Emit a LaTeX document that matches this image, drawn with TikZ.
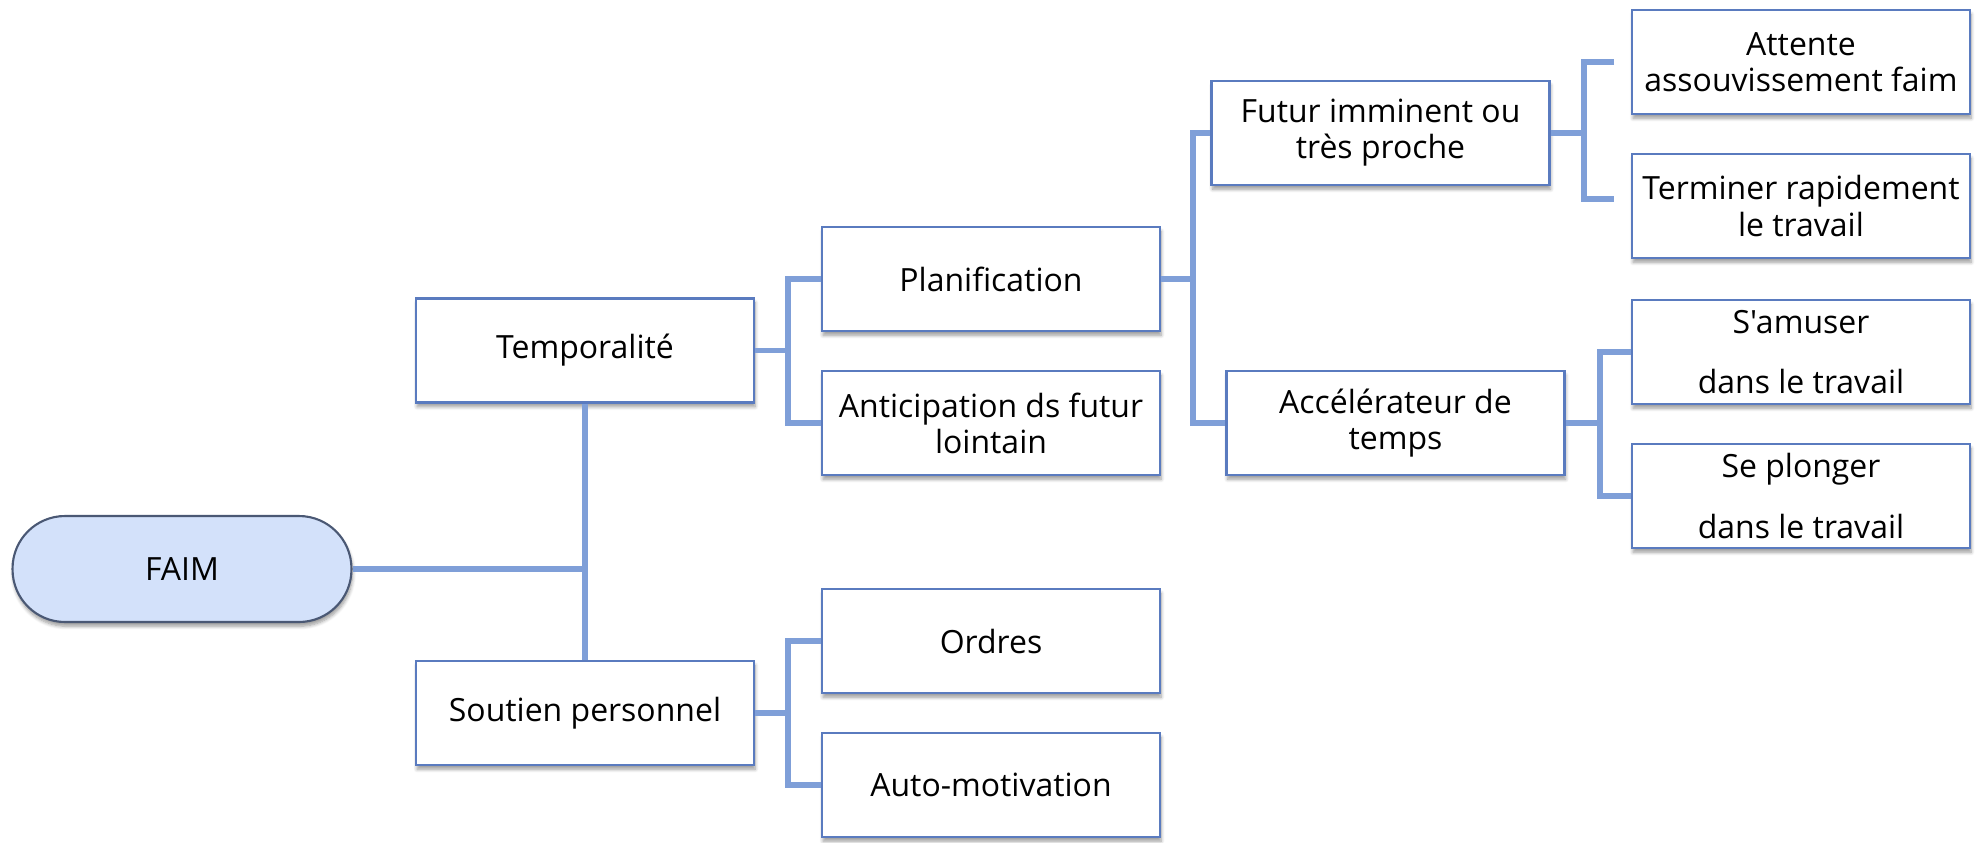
\documentclass[tikz,border=0pt]{standalone}
\usepackage{fontspec}
\setmainfont{Open Sans}[Ligatures=TeXOff]
\usetikzlibrary{shadows.blur}

\definecolor{linkblue}{HTML}{7F9FD8}
\definecolor{boxedge}{HTML}{5A7BBF}
\definecolor{rootfill}{HTML}{D3E1FA}
\definecolor{rootedge}{HTML}{4A5874}

\tikzset{
  every node/.style={font=\fontsize{18.2}{20.5}\selectfont, text=black},
  topic/.style={draw=boxedge, line width=1.2pt, fill=white, rectangle,
    minimum width=6.76cm, minimum height=2.08cm, align=center, inner sep=2pt,
    blur shadow={shadow xshift=0.6pt, shadow yshift=-2.4pt, shadow opacity=40,
      shadow blur radius=2pt, shadow blur steps=6}},
  root/.style={draw=rootedge, line width=1.2pt, fill=rootfill,
    minimum width=6.78cm, minimum height=2.12cm, rounded corners=1.05cm,
    blur shadow={shadow xshift=0.6pt, shadow yshift=-2.4pt, shadow opacity=40,
      shadow blur radius=2pt, shadow blur steps=6}},
  link/.style={draw=linkblue, line width=3.2pt, line join=miter}
}

\begin{document}
\begin{tikzpicture}[x=0.02cm, y=-0.02cm]
\useasboundingbox (0,0) rectangle (1984,842);

% bus positions of the tree branches
\coordinate (busA) at (584.6,0);
\coordinate (busB) at (788,0);
\coordinate (busC) at (1193,0);
\coordinate (busD) at (1584,0);
\coordinate (busE) at (1600,0);
\coordinate (stubD) at (1614,0);

% nodes
\node[root]  (faim) at (182,569)    {FAIM};
\node[topic] (temp) at (585,350.5)  {Temporalité};
\node[topic] (sout) at (585,713)    {Soutien personnel};
\node[topic] (plan) at (991,279)    {Planification};
\node[topic] (anti) at (991,423)    {Anticipation ds futur\\lointain};
\node[topic] (ord)  at (991,641)    {Ordres};
\node[topic] (auto) at (991,785)    {Auto-motivation};
\node[topic] (fut)  at (1380.5,133) {Futur imminent ou\\très proche};
\node[topic] (acc)  at (1395.5,423) {Accélérateur de\\temps};
\node[topic] (att)  at (1801,62)    {Attente\\assouvissement faim};
\node[topic] (ter)  at (1801,206)   {Terminer rapidement\\le travail};
\node[topic] (sam)  at (1801,352)   {S'amuser\\[14pt]dans le travail};
\node[topic] (spl)  at (1801,496)   {Se plonger\\[14pt]dans le travail};

% trunk from the root
\draw[link] (temp.south) -- (sout.north);
\draw[link] (faim.east) -- (faim.east -| busA);

% Temporalité branch
\draw[link] (temp.east) -- (temp.east -| busB);
\draw[link] (plan.west) -- (plan.west -| busB) -- (anti.west -| busB) -- (anti.west);

% Soutien personnel branch
\draw[link] (sout.east) -- (sout.east -| busB);
\draw[link] (ord.west) -- (ord.west -| busB) -- (auto.west -| busB) -- (auto.west);

% Planification branch
\draw[link] (plan.east) -- (plan.east -| busC);
\draw[link] (fut.west) -- (fut.west -| busC) -- (acc.west -| busC) -- (acc.west);

% Futur imminent branch (short stubs)
\coordinate (attEnd) at (att.west -| stubD);
\coordinate (terEnd) at ([yshift=4pt]ter.west -| stubD);
\draw[link] (fut.east) -- (fut.east -| busD);
\draw[link] (attEnd) -- (attEnd -| busD) -- (terEnd -| busD) -- (terEnd);

% Accélérateur branch
\draw[link] (acc.east) -- (acc.east -| busE);
\draw[link] (sam.west) -- (sam.west -| busE) -- (spl.west -| busE) -- (spl.west);
\end{tikzpicture}
\end{document}
